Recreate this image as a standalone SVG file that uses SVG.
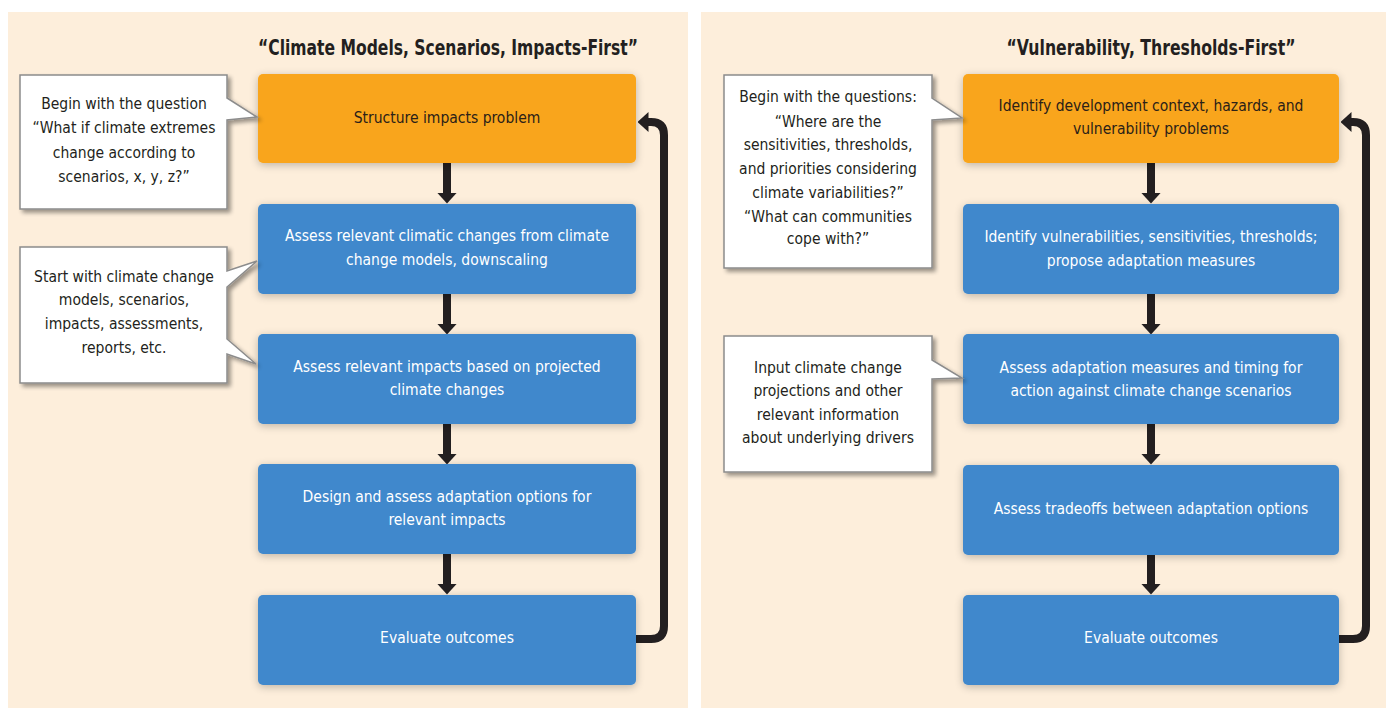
<svg xmlns="http://www.w3.org/2000/svg" width="1386" height="708" viewBox="0 0 1386 708">
<defs>
<style>
.panel{fill:#fdeedb}
.box-o{fill:#f9a51b}
.box-b{fill:#4088cc}
.t{font-family:"DejaVu Sans Condensed","Liberation Sans",sans-serif;font-stretch:condensed;text-anchor:middle}
.title{font-size:21px;font-weight:bold;fill:#231f20}
.bt{font-size:15.5px;fill:#ffffff}
.ot{font-size:15.5px;fill:#2b2118}
.ct{font-size:15.5px;fill:#231f20}
.callout{fill:#ffffff;stroke:#8c8c8c;stroke-width:1.5;stroke-linejoin:miter}
.arrow{fill:none;stroke:#231f20;stroke-width:8}
</style>
<filter id="sh" x="-10%" y="-10%" width="120%" height="130%">
<feGaussianBlur in="SourceAlpha" stdDeviation="4"/>
<feOffset dx="0" dy="2" result="b"/>
<feComponentTransfer><feFuncA type="linear" slope="0.25"/></feComponentTransfer>
<feMerge><feMergeNode/><feMergeNode in="SourceGraphic"/></feMerge>
</filter>
<filter id="csh" x="-10%" y="-10%" width="125%" height="125%">
<feGaussianBlur in="SourceAlpha" stdDeviation="2"/>
<feOffset dx="3" dy="3" result="b"/>
<feComponentTransfer><feFuncA type="linear" slope="0.4"/></feComponentTransfer>
<feMerge><feMergeNode/><feMergeNode in="SourceGraphic"/></feMerge>
</filter>
<marker id="ah" viewBox="0 0 11 20" refX="0.5" refY="10" markerWidth="11" markerHeight="20" markerUnits="userSpaceOnUse" orient="auto">
<path d="M0,0 L11,10 L0,20 Z" fill="#231f20"/>
</marker>
</defs>
<rect width="1386" height="708" fill="#ffffff"/>
<rect class="panel" x="8" y="12" width="680" height="696"/>
<rect class="panel" x="701" y="12" width="685" height="696"/>

<text class="t title" x="448" y="55" textLength="380" lengthAdjust="spacingAndGlyphs">“Climate Models, Scenarios, Impacts-First”</text>
<text class="t title" x="1151" y="55" textLength="289" lengthAdjust="spacingAndGlyphs">“Vulnerability, Thresholds-First”</text>

<g id="connectors">
<path class="arrow" d="M447,163 V193" marker-end="url(#ah)"/>
<path class="arrow" d="M447,294 V324" marker-end="url(#ah)"/>
<path class="arrow" d="M447,424 V454" marker-end="url(#ah)"/>
<path class="arrow" d="M447,554 V584" marker-end="url(#ah)"/>
<path class="arrow" d="M636,639 H651 Q664,639 664,626 V135 Q664,122 651,122 H648" marker-end="url(#ah)"/>
<path class="arrow" d="M1151,163 V193" marker-end="url(#ah)"/>
<path class="arrow" d="M1151,294 V324" marker-end="url(#ah)"/>
<path class="arrow" d="M1151,424 V454" marker-end="url(#ah)"/>
<path class="arrow" d="M1151,555 V584" marker-end="url(#ah)"/>
<path class="arrow" d="M1339,639 H1353 Q1366,639 1366,626 V135 Q1366,122 1353,122 H1351" marker-end="url(#ah)"/>
</g>

<g id="L1">
<rect class="box-o" x="258" y="74" width="378" height="89" rx="5" filter="url(#sh)"/>
<text class="t ot" x="447" y="123">Structure impacts problem</text>
</g>
<g id="L2">
<rect class="box-b" x="258" y="204" width="378" height="90" rx="5" filter="url(#sh)"/>
<text class="t bt" x="447" y="241">Assess relevant climatic changes from climate</text>
<text class="t bt" x="447" y="265">change models, downscaling</text>
</g>
<g id="L3">
<rect class="box-b" x="258" y="334" width="378" height="90" rx="5" filter="url(#sh)"/>
<text class="t bt" x="447" y="372">Assess relevant impacts based on projected</text>
<text class="t bt" x="447" y="395">climate changes</text>
</g>
<g id="L4">
<rect class="box-b" x="258" y="464" width="378" height="90" rx="5" filter="url(#sh)"/>
<text class="t bt" x="447" y="502">Design and assess adaptation options for</text>
<text class="t bt" x="447" y="525">relevant impacts</text>
</g>
<g id="L5">
<rect class="box-b" x="258" y="595" width="378" height="90" rx="5" filter="url(#sh)"/>
<text class="t bt" x="447" y="643">Evaluate outcomes</text>
</g>

<g id="LC1">
<path class="callout" filter="url(#csh)" d="M20,75 H227 V98 L257,117 L227,120 V209 H20 Z"/>
<text class="t ct" x="124" y="109">Begin with the question</text>
<text class="t ct" x="124" y="133">“What if climate extremes</text>
<text class="t ct" x="124" y="158">change according to</text>
<text class="t ct" x="124" y="182">scenarios, x, y, z?”</text>
</g>
<g id="LC2">
<path class="callout" filter="url(#csh)" d="M20,247 H227 V271 L257,261 L227,287 V339 L256,364 L227,354 V383 H20 Z"/>
<text class="t ct" x="124" y="282">Start with climate change</text>
<text class="t ct" x="124" y="305">models, scenarios,</text>
<text class="t ct" x="124" y="329">impacts, assessments,</text>
<text class="t ct" x="124" y="353">reports, etc.</text>
</g>

<g id="R1">
<rect class="box-o" x="963" y="74" width="376" height="89" rx="5" filter="url(#sh)"/>
<text class="t ot" x="1151" y="111">Identify development context, hazards, and</text>
<text class="t ot" x="1151" y="134">vulnerability problems</text>
</g>
<g id="R2">
<rect class="box-b" x="963" y="204" width="376" height="90" rx="5" filter="url(#sh)"/>
<text class="t bt" x="1151" y="242">Identify vulnerabilities, sensitivities, thresholds;</text>
<text class="t bt" x="1151" y="266">propose adaptation measures</text>
</g>
<g id="R3">
<rect class="box-b" x="963" y="334" width="376" height="90" rx="5" filter="url(#sh)"/>
<text class="t bt" x="1151" y="373">Assess adaptation measures and timing for</text>
<text class="t bt" x="1151" y="396">action against climate change scenarios</text>
</g>
<g id="R4">
<rect class="box-b" x="963" y="465" width="376" height="90" rx="5" filter="url(#sh)"/>
<text class="t bt" x="1151" y="514">Assess tradeoffs between adaptation options</text>
</g>
<g id="R5">
<rect class="box-b" x="963" y="595" width="376" height="90" rx="5" filter="url(#sh)"/>
<text class="t bt" x="1151" y="643">Evaluate outcomes</text>
</g>

<g id="RC1">
<path class="callout" filter="url(#csh)" d="M724,75 H932 V98 L962,118 L932,120 V268 H724 Z"/>
<text class="t ct" x="828" y="102">Begin with the questions:</text>
<text class="t ct" x="828" y="127">“Where are the</text>
<text class="t ct" x="828" y="150">sensitivities, thresholds,</text>
<text class="t ct" x="828" y="174">and priorities considering</text>
<text class="t ct" x="828" y="198">climate variabilities?”</text>
<text class="t ct" x="828" y="222">“What can communities</text>
<text class="t ct" x="828" y="244">cope with?”</text>
</g>
<g id="RC2">
<path class="callout" filter="url(#csh)" d="M724,336 H932 V360 L962,378 L932,379 V472 H724 Z"/>
<text class="t ct" x="828" y="373">Input climate change</text>
<text class="t ct" x="828" y="396">projections and other</text>
<text class="t ct" x="828" y="420">relevant information</text>
<text class="t ct" x="828" y="443">about underlying drivers</text>
</g>
</svg>
